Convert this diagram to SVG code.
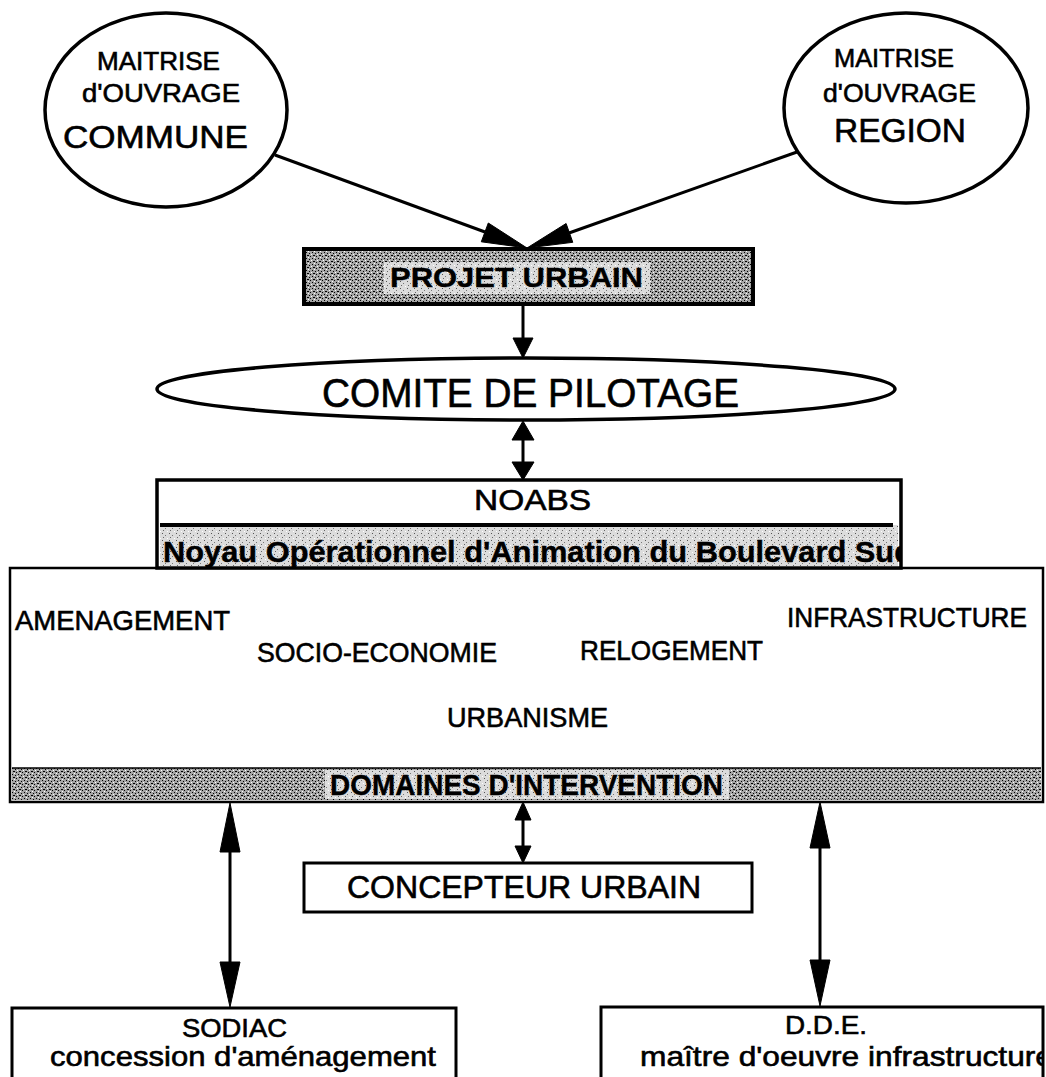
<svg xmlns="http://www.w3.org/2000/svg" width="1046" height="1077" viewBox="0 0 1046 1077">
<defs>
<style>
text{font-family:"Liberation Sans",Arial,sans-serif;fill:#000;stroke:#000;stroke-width:0.6}
.b{font-weight:bold;stroke-width:0.4}
.ln{stroke:#000;stroke-width:3;fill:none}
.hd{fill:#000;stroke:#000;stroke-width:1;stroke-linejoin:miter}
.box{fill:#fff;stroke:#000;stroke-width:3}
.el{fill:#fff;stroke:#000;stroke-width:3.5}
</style>
<pattern id="stip" width="6" height="6" patternUnits="userSpaceOnUse">
<rect width="6" height="6" fill="#a4a4a4"/>
<rect x="0" y="0" width="1" height="1" fill="#000"/>
<rect x="3" y="1" width="1" height="1" fill="#000"/>
<rect x="1" y="3" width="2" height="1" fill="#000"/>
<rect x="4" y="4" width="1" height="1" fill="#000"/>
<rect x="5" y="2" width="1" height="1" fill="#fff"/>
<rect x="2" y="5" width="1" height="1" fill="#fff"/>
</pattern>
<pattern id="stipL" width="7" height="7" patternUnits="userSpaceOnUse">
<rect width="7" height="7" fill="#dcdcdc"/>
<rect x="1" y="1" width="1" height="1" fill="#555"/>
<rect x="4" y="3" width="1" height="1" fill="#777"/>
<rect x="2" y="5" width="1" height="1" fill="#666"/>
<rect x="6" y="6" width="1" height="1" fill="#fff"/>
</pattern>
<clipPath id="cNoabs"><rect x="159" y="480" width="741" height="88"/></clipPath>
<clipPath id="cDde"><rect x="602" y="1007" width="440" height="70"/></clipPath>
</defs>

<g id="commune">
<ellipse class="el" cx="166" cy="110" rx="121" ry="97"/>
<text x="97" y="70" font-size="25" textLength="123" lengthAdjust="spacingAndGlyphs">MAITRISE</text>
<text x="82" y="102" font-size="26" textLength="158" lengthAdjust="spacingAndGlyphs">d'OUVRAGE</text>
<text x="63" y="148" font-size="32" textLength="185" lengthAdjust="spacingAndGlyphs">COMMUNE</text>
</g>

<g id="region">
<ellipse class="el" cx="906" cy="108" rx="122" ry="95"/>
<text x="834" y="67" font-size="25" textLength="120" lengthAdjust="spacingAndGlyphs">MAITRISE</text>
<text x="823" y="102" font-size="26" textLength="153" lengthAdjust="spacingAndGlyphs">d'OUVRAGE</text>
<text x="834" y="142" font-size="34" textLength="132" lengthAdjust="spacingAndGlyphs">REGION</text>
</g>

<g id="projet-urbain">
<rect x="304" y="249" width="449" height="55" fill="url(#stip)" stroke="#000" stroke-width="4"/>
<rect x="384" y="262" width="266" height="32" fill="url(#stipL)"/>
<text class="b" x="390" y="287" font-size="28" textLength="253" lengthAdjust="spacingAndGlyphs">PROJET URBAIN</text>
</g>

<g id="comite">
<ellipse class="el" cx="526" cy="389" rx="369" ry="31"/>
<text x="322" y="407" font-size="40" textLength="417" lengthAdjust="spacingAndGlyphs">COMITE DE PILOTAGE</text>
</g>

<g id="domaines">
<rect x="10" y="568" width="1033" height="234" fill="#fff" stroke="#000" stroke-width="2.5"/>
<rect x="12" y="768" width="1029" height="32" fill="url(#stip)"/>
<rect x="325" y="770" width="404" height="29" fill="url(#stipL)"/>
<line x1="12" y1="768" x2="1041" y2="768" stroke="#000" stroke-width="1.5"/>
<text class="b" x="330" y="795" font-size="30" textLength="393" lengthAdjust="spacingAndGlyphs">DOMAINES D'INTERVENTION</text>
<text x="15" y="630" font-size="28" textLength="215" lengthAdjust="spacingAndGlyphs">AMENAGEMENT</text>
<text x="787" y="627" font-size="28" textLength="240" lengthAdjust="spacingAndGlyphs">INFRASTRUCTURE</text>
<text x="257" y="662" font-size="28" textLength="240" lengthAdjust="spacingAndGlyphs">SOCIO-ECONOMIE</text>
<text x="580" y="660" font-size="28" textLength="183" lengthAdjust="spacingAndGlyphs">RELOGEMENT</text>
<text x="447" y="727" font-size="28" textLength="161" lengthAdjust="spacingAndGlyphs">URBANISME</text>
</g>

<g id="noabs">
<rect x="157" y="480" width="744" height="88" fill="#fff" stroke="#000" stroke-width="3.5"/>
<rect x="160" y="525" width="738" height="41" fill="url(#stipL)"/>
<line x1="160" y1="525" x2="893" y2="525" stroke="#000" stroke-width="4"/>
<text x="474" y="510" font-size="30" textLength="117" lengthAdjust="spacingAndGlyphs">NOABS</text>
<g clip-path="url(#cNoabs)">
<text class="b" x="163" y="562" font-size="29" textLength="750" lengthAdjust="spacingAndGlyphs">Noyau Opérationnel d'Animation du Boulevard Sud</text>
</g>
</g>

<g id="concepteur">
<rect class="box" x="304" y="863" width="448" height="49" stroke-width="4"/>
<text x="347" y="898" font-size="32" textLength="354" lengthAdjust="spacingAndGlyphs">CONCEPTEUR URBAIN</text>
</g>

<g id="sodiac">
<rect class="box" x="12" y="1008" width="444" height="80"/>
<text x="182" y="1037" font-size="26" textLength="105" lengthAdjust="spacingAndGlyphs">SODIAC</text>
<text x="50" y="1066" font-size="28" textLength="386" lengthAdjust="spacingAndGlyphs">concession d'aménagement</text>
</g>

<g id="dde">
<rect class="box" x="601" y="1007" width="442" height="80"/>
<text x="785" y="1034" font-size="26" textLength="82" lengthAdjust="spacingAndGlyphs">D.D.E.</text>
<g clip-path="url(#cDde)">
<text x="640" y="1066" font-size="28" textLength="413" lengthAdjust="spacingAndGlyphs">maître d'oeuvre infrastructure</text>
</g>
</g>

<g id="connectors">
<line class="ln" x1="275" y1="155" x2="485" y2="232"/>
<polygon class="hd" points="481.3,241.8 488.3,223 527,248"/>
<line class="ln" x1="797" y1="152" x2="569" y2="233"/>
<polygon class="hd" points="572.8,242.3 566.1,223.5 527,248"/>
<line class="ln" x1="523" y1="305" x2="523" y2="340"/>
<polygon class="hd" points="513,338 533,338 523,358"/>
<line class="ln" x1="523" y1="438" x2="523" y2="464"/>
<polygon class="hd" points="523,421 512,440 534,440"/>
<polygon class="hd" points="512,462 534,462 523,480"/>
<line class="ln" x1="230" y1="850" x2="230" y2="964"/>
<polygon class="hd" points="230,803 220,852 240,852"/>
<polygon class="hd" points="220,962 240,962 230,1007"/>
<line class="ln" x1="523" y1="818" x2="523" y2="848"/>
<polygon class="hd" points="523,802 515,820 531,820"/>
<polygon class="hd" points="515,846 531,846 523,863"/>
<line class="ln" x1="820" y1="846" x2="820" y2="962"/>
<polygon class="hd" points="820,802 810,848 830,848"/>
<polygon class="hd" points="810,960 830,960 820,1006"/>
</g>
</svg>
